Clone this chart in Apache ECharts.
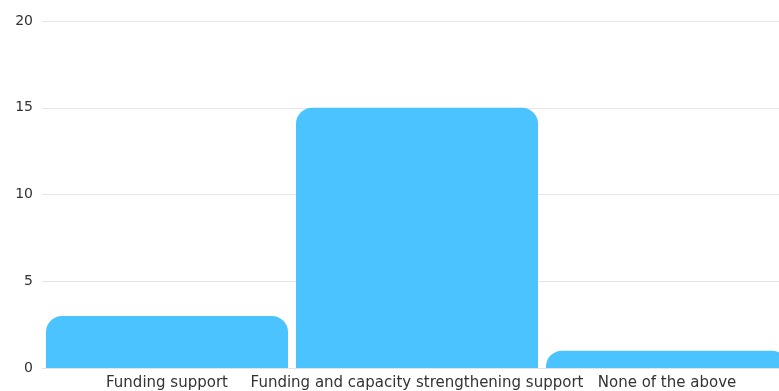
<!DOCTYPE html>
<html>
<head>
<meta charset="utf-8">
<script src="https://cdn.jsdelivr.net/npm/echarts@6/dist/echarts.min.js"></script>
<style>
  html, body { margin: 0; padding: 0; background: #fff; overflow: hidden; }
  /* wider than the window: the last bar runs past the right edge */
  #chart { width: 792px; height: 391px; }
</style>
</head>
<body>
<div id="chart"></div>
<script>
const categories = ['Funding support', 'Funding and capacity strengthening support', 'None of the above'];
const counts = [3, 15, 1];
const yTicks = { min: 0, max: 20, interval: 5 };

const font = '"DejaVu Sans", sans-serif';
const chart = echarts.init(document.getElementById('chart'));
chart.setOption({
  animation: false,
  grid: { left: 42, right: 0, top: 21, bottom: 23, containLabel: false },
  xAxis: {
    type: 'category',
    data: categories,
    axisLine: { show: true, lineStyle: { color: '#e3e3e3' } },
    axisTick: { show: false },
    axisLabel: { color: '#333', fontSize: 15, fontFamily: font, margin: 8, interval: 0 }
  },
  yAxis: {
    type: 'value',
    min: yTicks.min,
    max: yTicks.max,
    interval: yTicks.interval,
    axisLine: { show: false },
    axisTick: { show: false },
    splitLine: { lineStyle: { color: '#e6e6e6' } },
    axisLabel: { color: '#333', fontSize: 14, fontFamily: font, margin: 9 }
  },
  series: [{
    type: 'bar',
    data: counts,
    barCategoryGap: '3.2%',
    itemStyle: { color: '#4AC3FF', borderRadius: [16, 16, 0, 0] }
  }]
});
</script>
</body>
</html>
